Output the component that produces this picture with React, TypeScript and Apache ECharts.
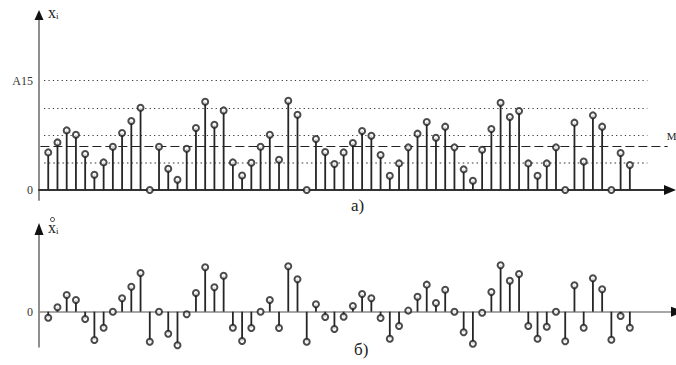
import React, { useEffect, useRef } from 'react';
import * as echarts from 'echarts';

// Top chart: sample values x_i (A15 = 15 units)
const topValues = [
  5.16, 6.53, 8.18, 7.59, 4.94, 2.1, 3.79, 5.94, 7.82, 9.47, 11.29, 0,
  5.94, 2.92, 1.41, 5.67, 8.51, 12.12, 8.96, 10.92, 3.79, 2.0, 3.75, 5.94,
  7.59, 4.16, 12.25, 10.33, 0, 7.0, 5.21, 3.57, 5.16, 6.45, 8.1, 7.45,
  4.8, 1.96, 3.65, 5.85, 7.73, 9.33, 7.18, 8.69, 5.85, 2.83, 1.28, 5.53,
  8.37, 11.98, 10.02, 10.84, 3.65, 1.96, 3.65, 5.85, 0, 9.24, 3.92, 10.24,
  8.69, 0, 5.08, 3.43,
];

// Bottom chart: centred values
const bottomValues = [
  -0.82, 0.6, 2.29, 1.61, -1.0, -3.88, -2.2, 0, 1.84, 3.43, 5.31, -4.12,
  0, -3.02, -4.61, -0.36, 2.57, 6.09, 3.35, 4.94, -2.2, -4.02, -2.24, 0,
  1.61, -2.24, 6.23, 4.45, -4.12, 1.02, -0.73, -2.37, -0.69, 0.78, 2.43, 1.84,
  -0.86, -3.71, -1.96, 0.15, 2.06, 3.71, 1.19, 3.02, 0, -2.83, -4.39, -0.14,
  2.7, 6.37, 4.25, 5.17, -1.96, -3.71, -2.06, 0, -4.06, 3.62, -2.2, 4.58,
  3.07, -3.84, -0.59, -2.2,
];

const quantLevels = [3.75, 7.5, 11.25, 15];
const meanLevel = 5.94;
const yTickValues = [0, 15];
const yTickLabels = ['0', 'A15'];
const bottomTickValues = [0];
const bottomTickLabels = ['0'];

const serif = 'Liberation Serif';

const topYMin = -1.372;
const topYMax = 23.6;
const botYMin = -4.803;
const botYMax = 11.07;
const topXMax = 68.35;
const botXMax = 69;

export default function App() {
  const ref = useRef<HTMLDivElement>(null);

  useEffect(() => {
    if (!ref.current) return;
    const chart = echarts.init(ref.current, null, { renderer: 'svg' });

    const topPts = topValues.map((v, i) => [i + 1, v]);
    const botPts = bottomValues.map((v, i) => [i + 1, v]);

    const hiddenAxisParts = {
      axisTick: { show: false },
      splitLine: { show: false },
    };

    const option: any = {
      animation: false,
      grid: [
        { left: 39, top: 18, width: 631, height: 182, containLabel: false, outerBoundsMode: 'none' },
        { left: 39, top: 231, width: 637, height: 115.7, containLabel: false, outerBoundsMode: 'none' },
      ],
      xAxis: [
        {
          type: 'value', gridIndex: 0, min: 0, max: topXMax,
          axisLine: { show: true, onZero: true, lineStyle: { color: '#333', width: 2 } },
          axisLabel: { show: false },
          ...hiddenAxisParts,
        },
        {
          type: 'value', gridIndex: 1, min: 0, max: botXMax,
          axisLine: { show: true, onZero: true, lineStyle: { color: '#8a8a8a', width: 1.6 } },
          axisLabel: { show: false },
          ...hiddenAxisParts,
        },
      ],
      yAxis: [
        {
          type: 'value', gridIndex: 0, min: topYMin, max: topYMax,
          axisLine: { show: true, onZero: false, lineStyle: { color: '#8f8f8f', width: 2 } },
          axisLabel: {
            show: true,
            customValues: yTickValues,
            formatter: (v: number) => yTickLabels[yTickValues.indexOf(v)] ?? '',
            fontFamily: serif, fontSize: 12, color: '#333', margin: 6,
          },
          ...hiddenAxisParts,
        },
        {
          type: 'value', gridIndex: 1, min: botYMin, max: botYMax,
          axisLine: { show: true, onZero: false, lineStyle: { color: '#8f8f8f', width: 2 } },
          axisLabel: {
            show: true,
            customValues: bottomTickValues,
            formatter: (v: number) => bottomTickLabels[bottomTickValues.indexOf(v)] ?? '',
            fontFamily: serif, fontSize: 12, color: '#333', margin: 6,
          },
          ...hiddenAxisParts,
        },
      ],
      series: [
        {
          type: 'bar', xAxisIndex: 0, yAxisIndex: 0, data: topPts,
          barWidth: 1.8, itemStyle: { color: '#262626' }, silent: true, z: 3,
          markLine: {
            silent: true, symbol: 'none', label: { show: false }, z: 2,
            data: [
              ...quantLevels.map((v, k) => [
                {
                  coord: [0.55, v],
                  lineStyle: k === 0
                    ? { color: '#7a7a7a', width: 1.6, type: [1.6, 3] }
                    : { color: '#333', width: 1, type: [1.2, 3.2] },
                },
                { coord: [65.9, v] },
              ]),
              [
                { coord: [0.15, meanLevel], lineStyle: { color: '#222', width: 1.2, type: [9, 4] } },
                { coord: [68.1, meanLevel] },
              ],
            ],
          },
        },
        {
          type: 'scatter', xAxisIndex: 0, yAxisIndex: 0, data: topPts,
          symbol: 'emptyCircle', symbolSize: 6, silent: true, z: 4,
          itemStyle: { color: '#1e1e1e', borderWidth: 1.5 },
        },
        {
          type: 'bar', xAxisIndex: 1, yAxisIndex: 1, data: botPts,
          barWidth: 1.8, itemStyle: { color: '#262626' }, silent: true, z: 3,
        },
        {
          type: 'scatter', xAxisIndex: 1, yAxisIndex: 1, data: botPts,
          symbol: 'emptyCircle', symbolSize: 6, silent: true, z: 4,
          itemStyle: { color: '#1e1e1e', borderWidth: 1.5 },
        },
      ],
    };

    chart.setOption(option);

    const px = (g: number, p: number[]) => chart.convertToPixel({ gridIndex: g } as any, p) as number[];
    const topYEnd = px(0, [0, topYMax]);
    const botYEnd = px(1, [0, botYMax]);
    const topXEnd = px(0, [topXMax, 0]);
    const botXEnd = px(1, [botXMax, 0]);
    const topMean = px(0, [68.1, meanLevel]);

    const upArrow = (p: number[], w: number, up: number, down: number) => ({
      type: 'polygon',
      shape: { points: [[p[0], p[1] - up], [p[0] - w / 2, p[1] + down], [p[0] + w / 2, p[1] + down]] },
      style: { fill: '#111' },
      silent: true,
      z: 10,
    });
    const rightArrow = (p: number[], h: number, back: number, fwd: number) => ({
      type: 'polygon',
      shape: { points: [[p[0] + fwd, p[1]], [p[0] - back, p[1] - h / 2], [p[0] - back, p[1] + h / 2]] },
      style: { fill: '#111' },
      silent: true,
      z: 10,
    });

    const axisName = {
      x: { fontFamily: serif, fontSize: 16, fill: '#222' },
      i: { fontFamily: serif, fontSize: 9, fill: '#222', verticalAlign: 'bottom', padding: [6, 0, 0, 0] },
    };

    chart.setOption({
      graphic: [
        upArrow(topYEnd, 9, 8, 2),
        upArrow(botYEnd, 9, 8, 4),
        rightArrow(topXEnd, 10, 6, 6),
        rightArrow(botXEnd, 10, 5, 8),
        {
          type: 'text', left: 48, top: 4, silent: true,
          style: { text: '{x|x}{i|i}', rich: axisName },
        },
        {
          type: 'circle', silent: true,
          shape: { cx: 52.5, cy: 219.5, r: 2 },
          style: { fill: 'none', stroke: '#222', lineWidth: 1 },
        },
        {
          type: 'text', left: 48, top: 219, silent: true,
          style: { text: '{x|x}{i|i}', rich: axisName },
        },
        {
          type: 'text', x: topMean[0] - 1, y: topMean[1] - 16, silent: true,
          style: { text: 'M', fontFamily: serif, fontSize: 11, fill: '#222' },
        },
        {
          type: 'text', left: 351, top: 197, silent: true,
          style: { text: 'а)', fontFamily: serif, fontSize: 17, fill: '#222' },
        },
        {
          type: 'text', left: 354, top: 341, silent: true,
          style: { text: 'б)', fontFamily: serif, fontSize: 17, fill: '#222' },
        },
      ],
    });

    return () => chart.dispose();
  }, []);

  return (
    <div
      ref={ref}
      style={{ position: 'fixed', left: 0, top: 0, width: 676, height: 365, background: '#fff' }}
    />
  );
}
